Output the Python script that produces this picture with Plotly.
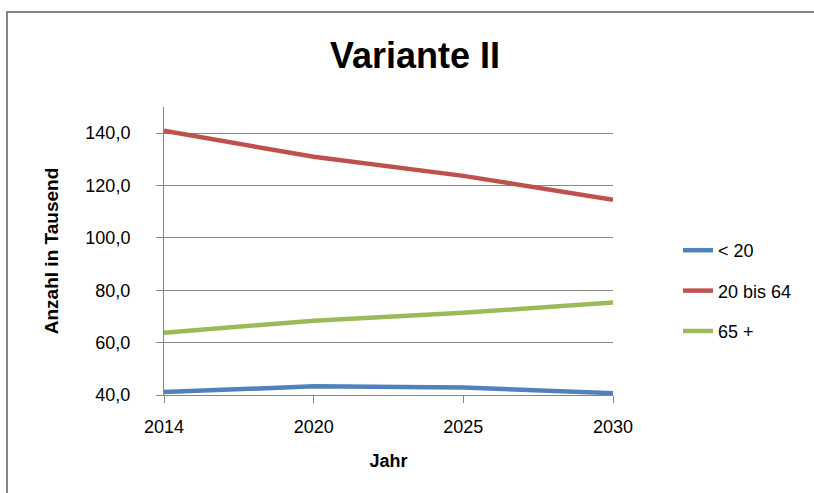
import plotly.graph_objects as go

years = ["2014", "2020", "2025", "2030"]
unter_20 = [41.1, 43.3, 42.9, 40.7]
von_20_bis_64 = [140.9, 131.0, 123.7, 114.6]
ab_65 = [63.8, 68.4, 71.4, 75.3]
series_names = ["< 20", "20 bis 64", "65 +"]
colors = ["#4F81BD", "#C0504D", "#9BBB59"]
y_ticks = [40, 60, 80, 100, 120, 140]
y_tick_labels = ["40,0", "60,0", "80,0", "100,0", "120,0", "140,0"]

FONT = "Liberation Sans"

fig = go.Figure()
for i, (name, vals) in enumerate(zip(series_names, [unter_20, von_20_bis_64, ab_65])):
    fig.add_trace(go.Scatter(
        x=years, y=vals, mode="lines", name=name, legendgroup=f"g{i}",
        line=dict(color=colors[i], width=4.5),
    ))

L, R, T, B = 164, 201, 107, 98
W, H = 814, 493
pw, ph = W - L - R, H - T - B

fig.update_layout(
    width=W, height=H,
    margin=dict(l=L, r=R, t=T, b=B, autoexpand=False),
    paper_bgcolor="white", plot_bgcolor="white",
    font=dict(family=FONT, size=18, color="#000000"),
    title=dict(text="<b>Variante II</b>", x=415 / W, xref="container", xanchor="center",
               y=1 - 55 / H, yref="container", yanchor="middle",
               font=dict(family=FONT, size=36, color="#000000")),
    showlegend=True,
    legend=dict(x=(678 - L) / pw, xanchor="left", y=(H - B - 291) / ph, yanchor="middle",
                font=dict(family=FONT, size=18), tracegroupgap=14, bgcolor="rgba(0,0,0,0)"),
    xaxis=dict(type="category", range=[0, 3], showline=True, linecolor="#868686", linewidth=1,
               ticks="outside", ticklen=7, tickcolor="#868686", showgrid=False, automargin=False,
               tickfont=dict(family=FONT, size=18), ticklabelstandoff=8,
               title=dict(text="<b>Jahr</b>", font=dict(family=FONT, size=18), standoff=18)),
    yaxis=dict(range=[40, 150], tickvals=y_ticks, ticktext=y_tick_labels, showline=True,
               linecolor="#868686", linewidth=1, ticks="outside", ticklen=7, tickcolor="#868686",
               showgrid=True, gridcolor="#878787", gridwidth=1, zeroline=False, automargin=False,
               tickfont=dict(family=FONT, size=18), ticklabelstandoff=22,
               title=dict(text="<b>Anzahl in Tausend</b>", font=dict(family=FONT, size=19), standoff=21)),
    shapes=[dict(type="rect", xref="paper", yref="paper",
                 x0=(7 - L) / pw, x1=(W + 20 - L) / pw,
                 y0=(H - B - (H + 20)) / ph, y1=(H - B - 12) / ph,
                 line=dict(color="#868686", width=2), fillcolor="rgba(0,0,0,0)", layer="below")],
)

fig.write_html("out.html", config={"displayModeBar": False},
               post_script="document.body.style.margin='0';")
